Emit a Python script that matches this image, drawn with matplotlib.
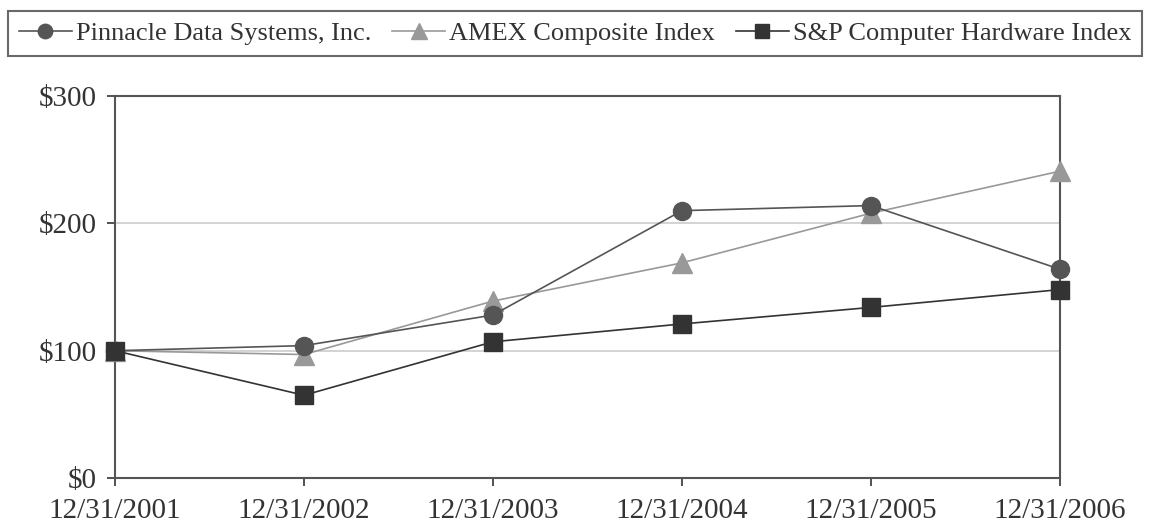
import matplotlib.pyplot as plt

plt.rcParams['font.family'] = ['Liberation Serif', 'DejaVu Serif']

dates = ["12/31/2001", "12/31/2002", "12/31/2003", "12/31/2004", "12/31/2005", "12/31/2006"]
pinnacle = [100, 104, 128, 210, 214, 164]
amex = [100, 97, 139, 169, 208, 241]
sp_hardware = [100, 65, 107, 121, 134, 148]


def plot_chart():
    fig = plt.figure(figsize=(11.5, 5.25), dpi=100)
    ax = fig.add_axes([0.1, 0.0895, 0.8217, 0.7275])
    x = range(len(dates))

    ax.plot(x, pinnacle, color="#555555", lw=1.2, marker="o", ms=13,
            label="Pinnacle Data Systems, Inc.", clip_on=False, zorder=4)
    ax.plot(x, amex, color="#999999", lw=1.2, marker="^", ms=14,
            label="AMEX Composite Index", clip_on=False, zorder=3)
    ax.plot(x, sp_hardware, color="#333333", lw=1.2, marker="s", ms=12.5,
            label="S&P Computer Hardware Index", clip_on=False, zorder=5)

    ax.set_xlim(0, len(dates) - 1)
    ax.set_ylim(0, 300)
    ax.set_xticks(list(x))
    ax.set_xticklabels(dates)
    ax.set_yticks([0, 100, 200, 300])
    ax.set_yticklabels(["$0", "$100", "$200", "$300"])
    ax.tick_params(axis="both", labelsize=21, colors="#333333", length=6, width=1.2)
    ax.tick_params(axis="y", pad=7)
    ax.tick_params(axis="x", pad=8.5)
    ax.grid(axis="y", color="#cccccc", lw=1.2)
    ax.set_axisbelow(True)
    for s in ax.spines.values():
        s.set_color("#555555")
        s.set_linewidth(1.5)

    leg = fig.legend(loc="upper center", bbox_to_anchor=(0.5, 1 - 11 / 525),
                     borderaxespad=0, ncol=3, fontsize=19, frameon=True,
                     fancybox=False, edgecolor="#444444", handlelength=2.0,
                     handletextpad=0.15, borderpad=0.4, columnspacing=0.8,
                     labelcolor="#333333", markerscale=0.8)
    leg.get_frame().set_linewidth(1.5)
    fig.savefig("out.png", dpi=100)


if __name__ == '__main__':
    plot_chart()
